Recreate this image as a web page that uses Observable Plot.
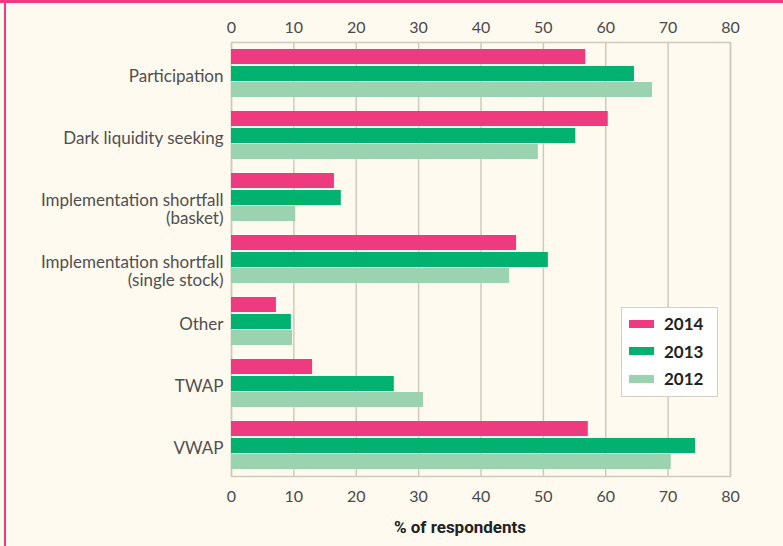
<!DOCTYPE html>
<html>
<head>
<meta charset="utf-8">
<script src="https://cdn.jsdelivr.net/npm/d3@7"></script>
<script src="https://cdn.jsdelivr.net/npm/@observablehq/plot@0.6"></script>
<style>
  html, body { margin: 0; padding: 0; background: #fffaef; }
  #wrap { position: relative; width: 783px; height: 546px; overflow: hidden; background: #fffaef; font-family: Lato, "Noto Sans", sans-serif; }
  #topbar { position: absolute; left: 0; top: 0; width: 783px; height: 3px; background: #ee3a7f; }
  #leftbar { position: absolute; left: 4px; top: 0; width: 1.5px; height: 546px; background: #ee3a7f; }
  #chart { position: absolute; left: 0; top: 0; }
  #legend { position: absolute; left: 621px; top: 307px; width: 95px; height: 88px; background: #ffffff; border: 1.5px solid #d6d0c2; }
  .item { position: absolute; left: 7px; display: flex; align-items: center; font-weight: bold; font-size: 17px; color: #222; }
  .sw { width: 25px; height: 8px; margin-right: 10px; }
</style>
</head>
<body>
<div id="wrap">
  <div id="chart"></div>
  <div id="topbar"></div>
  <div id="leftbar"></div>
  <div id="legend"></div>
</div>
<script>
const categories = ["Participation", "Dark liquidity seeking", "Implementation shortfall (basket)", "Implementation shortfall (single stock)", "Other", "TWAP", "VWAP"];
const labels = ["Participation", "Dark liquidity seeking", "Implementation shortfall\n(basket)", "Implementation shortfall\n(single stock)", "Other", "TWAP", "VWAP"];
const years = ["2014", "2013", "2012"];
const values2014 = [56.8, 60.4, 16.5, 45.7, 7.2, 13.0, 57.2];
const values2013 = [64.6, 55.2, 17.6, 50.8, 9.6, 26.1, 74.4];
const values2012 = [67.5, 49.2, 10.3, 44.6, 9.8, 30.8, 70.5];
const xTicks = [0, 10, 20, 30, 40, 50, 60, 70, 80];
const xLabel = "% of respondents";
const colors = {"2014": "#ee3a7f", "2013": "#00b170", "2012": "#9bd3b0"};

const rows = [];
categories.forEach((c, i) => {
  rows.push({cat: c, year: "2014", value: values2014[i]});
  rows.push({cat: c, year: "2013", value: values2013[i]});
  rows.push({cat: c, year: "2012", value: values2012[i]});
});
const insets = {"2014": [7, 40], "2013": [24, 23], "2012": [40, 7]};
const gridColor = "#d0cabc";

const plot = Plot.plot({
  width: 783,
  height: 546,
  marginLeft: 231,
  marginRight: 53,
  marginTop: 42,
  marginBottom: 70,
  style: {background: "transparent", fontFamily: "Lato, 'Noto Sans', sans-serif", overflow: "visible"},
  x: {domain: [0, 80]},
  y: {domain: categories, padding: 0, axis: null},
  marks: [
    Plot.ruleX(xTicks, {stroke: gridColor, strokeWidth: 1.5}),
    Plot.frame({stroke: gridColor, strokeWidth: 1.5}),
    ...years.map(yr => Plot.barX(rows.filter(d => d.year === yr), {
      x: "value", y: "cat", fill: colors[yr],
      insetTop: insets[yr][0], insetBottom: insets[yr][1]
    })),
    Plot.axisX({anchor: "top", ticks: xTicks, tickSize: 0, tickPadding: 10, fontSize: 16, fill: "#4a4a4a", label: null}),
    Plot.axisX({anchor: "bottom", ticks: xTicks, tickSize: 0, tickPadding: 14, fontSize: 16, fill: "#4a4a4a", label: null}),
    Plot.text(categories, {
      y: d => d, text: (d, i) => labels[i], frameAnchor: "left", textAnchor: "end",
      lineAnchor: "top", dx: -8, dy: -5, fontSize: 17, lineHeight: 1.1, fill: "#4f4f4f"
    }),
    Plot.text([xLabel], {frameAnchor: "bottom", dx: -21, dy: 56, fontSize: 17, fontWeight: "bold", fill: "#222",
      fontFamily: "'Liberation Sans Narrow', 'Roboto', sans-serif"})
  ]
});
plot.style.fontVariantNumeric = "oldstyle-nums";
document.getElementById("chart").appendChild(plot);

const legend = document.getElementById("legend");
years.forEach((yr, i) => {
  const it = document.createElement("div");
  it.className = "item";
  it.style.top = (5 + i * 27.5) + "px";
  it.innerHTML = `<span class="sw" style="background:${colors[yr]}"></span><span>${yr}</span>`;
  legend.appendChild(it);
});
</script>
</body>
</html>
